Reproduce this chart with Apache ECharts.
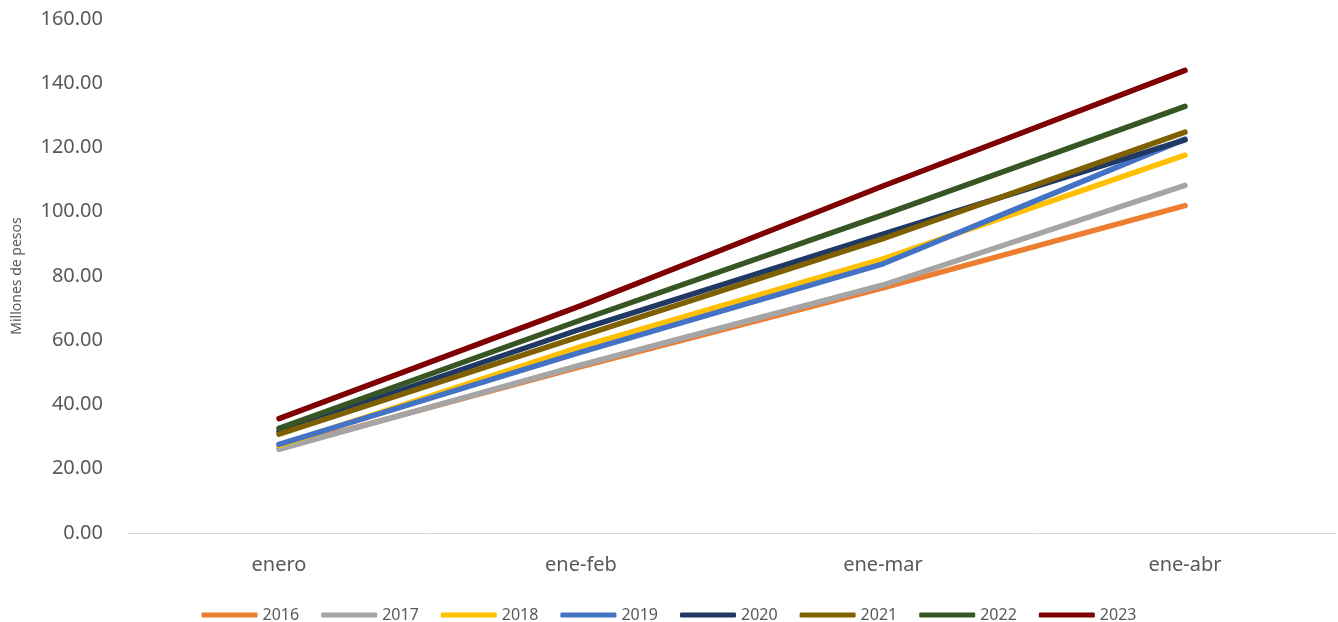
<!DOCTYPE html>
<html><head><meta charset="utf-8">
<script src="https://cdn.jsdelivr.net/npm/echarts@6/dist/echarts.min.js"></script>
<style>html,body{margin:0;padding:0;background:#fff}#c{width:1338px;height:622px}</style>
</head><body><div id="c"></div>
<script>
const categories = ['enero', 'ene-feb', 'ene-mar', 'ene-abr'];
const years = ['2016', '2017', '2018', '2019', '2020', '2021', '2022', '2023'];
const colors = ['#ED7D31', '#A5A5A5', '#FFC000', '#4472C4', '#203864', '#7F6000', '#375623', '#7F0000'];
const v2016 = [26.4, 51.8, 76.3, 101.9];
const v2017 = [26.0, 52.3, 77.2, 108.2];
const v2018 = [27.2, 58.0, 85.3, 117.6];
const v2019 = [27.6, 56.3, 83.8, 122.6];
const v2020 = [31.6, 63.5, 93.0, 122.4];
const v2021 = [30.8, 61.3, 91.6, 124.8];
const v2022 = [32.6, 66.3, 99.0, 132.8];
const v2023 = [35.6, 70.8, 108.0, 144.0];
const yTicks = { min: 0, max: 160, interval: 20 };
const values = [v2016, v2017, v2018, v2019, v2020, v2021, v2022, v2023];

const chart = echarts.init(document.getElementById('c'));
chart.setOption({
  animation: false,
  color: colors,
  grid: { left: 128, right: 2, top: 19, bottom: 89 },
  legend: {
    top: 602, left: 'center', itemWidth: 56, itemHeight: 5, itemGap: 22,
    icon: 'roundRect',
    textStyle: { color: '#595959', fontSize: 16, fontFamily: 'Liberation Sans Narrow, Noto Sans, sans-serif' },
    data: years
  },
  xAxis: {
    type: 'category', data: categories, boundaryGap: true,
    axisLine: { lineStyle: { color: '#D9D9D9', width: 1 } },
    axisTick: { show: false },
    axisLabel: { color: '#595959', fontSize: 20, margin: 22, fontFamily: 'Noto Sans, sans-serif' }
  },
  yAxis: {
    type: 'value', min: yTicks.min, max: yTicks.max, interval: yTicks.interval,
    name: 'Millones de pesos', nameLocation: 'middle', nameGap: 104, nameRotate: 90,
    nameTextStyle: { color: '#595959', fontSize: 14, fontFamily: 'Noto Sans, sans-serif' },
    splitLine: { show: false }, axisLine: { show: false }, axisTick: { show: false },
    axisLabel: { color: '#595959', fontSize: 20, margin: 25, fontFamily: 'Noto Sans, sans-serif',
      formatter: v => v.toFixed(2) }
  },
  series: years.map((y, i) => ({
    name: y, type: 'line', data: values[i], symbol: 'none',
    lineStyle: { width: 5.5, cap: 'round', join: 'round' }
  }))
});
</script></body></html>
